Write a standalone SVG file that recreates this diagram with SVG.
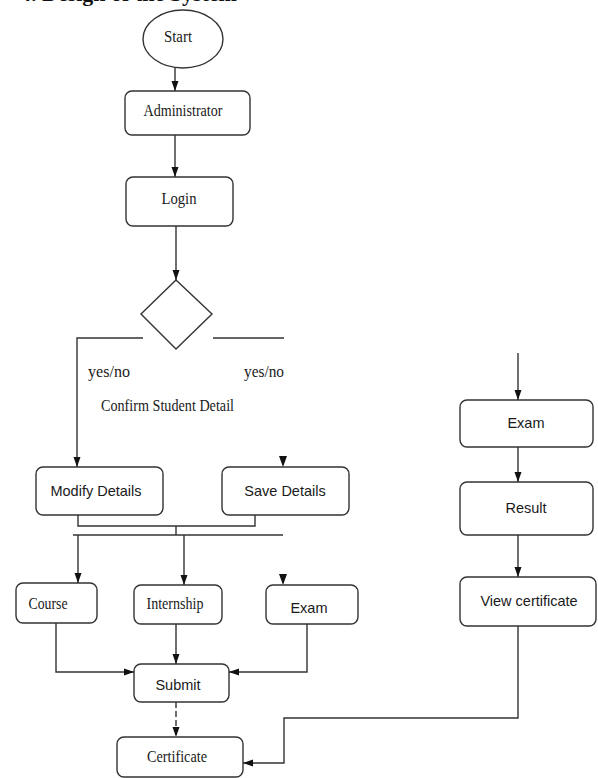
<svg xmlns="http://www.w3.org/2000/svg" width="598" height="778" viewBox="0 0 598 778">
<style>
.box{fill:#fff;stroke:#333;stroke-width:1.4}
.ln{fill:none;stroke:#333;stroke-width:1.4}
.ah{fill:#111}
.sr{font-family:"Liberation Serif",serif;font-size:17px;fill:#1a1a1a;text-anchor:middle}
.ss{font-family:"Liberation Sans",sans-serif;font-size:14.5px;fill:#1a1a1a;text-anchor:middle}
.st{text-anchor:start}
.tl{font-family:"Liberation Serif",serif;font-size:22px;font-weight:bold;fill:#111}
</style>
<defs>
<marker id="arr" markerUnits="userSpaceOnUse" markerWidth="10" markerHeight="8" refX="10" refY="4" orient="auto">
<path d="M0,0.5 L10,4 L0,7.5 z" fill="#111"/>
</marker>
</defs>
<text class="tl" x="20" y="1">4. Design of the System</text>
<g id="connectors">
<path class="ln" d="M175,68 V91" marker-end="url(#arr)"/>
<path class="ln" d="M175,135 V177" marker-end="url(#arr)"/>
<path class="ln" d="M176,226 V280" marker-end="url(#arr)"/>
<path class="ln" d="M143,338 H77 V467" marker-end="url(#arr)"/>
<path class="ln" d="M213,338 H284"/>
<path class="ah" d="M279,456 L287,456 L283,467 z"/>
<path class="ln" d="M78,515 V526 H255 V515"/>
<path class="ln" d="M176,526 V535"/>
<path class="ln" d="M73,535 H283"/>
<path class="ln" d="M78,535 V583" marker-end="url(#arr)"/>
<path class="ln" d="M184,535 V585" marker-end="url(#arr)"/>
<path class="ah" d="M279,574 L287,574 L283,585 z"/>
<path class="ln" d="M56,623 V672 H134" marker-end="url(#arr)"/>
<path class="ln" d="M176,624 V664" marker-end="url(#arr)"/>
<path class="ln" d="M307,624 V672 H229" marker-end="url(#arr)"/>
<path class="ln" d="M176,702 V737" stroke-dasharray="6,3" marker-end="url(#arr)"/>
<path class="ln" d="M518,353 V400" marker-end="url(#arr)"/>
<path class="ln" d="M518,447 V482" marker-end="url(#arr)"/>
<path class="ln" d="M518,535 V577" marker-end="url(#arr)"/>
<path class="ln" d="M518,626 V718 H284 V763 H243" marker-end="url(#arr)"/>
</g>
<g id="start"><ellipse class="box" cx="183" cy="39" rx="40" ry="29"/><text class="sr" x="178" y="42" textLength="28" lengthAdjust="spacingAndGlyphs">Start</text></g>
<g id="administrator"><rect class="box" x="125" y="91" width="125" height="44" rx="7"/><text class="sr" x="183" y="116" textLength="79" lengthAdjust="spacingAndGlyphs">Administrator</text></g>
<g id="login"><rect class="box" x="126" y="177" width="107" height="49" rx="7"/><text class="sr" x="179" y="204" textLength="35" lengthAdjust="spacingAndGlyphs">Login</text></g>
<g id="decision"><path class="box" d="M176,280 L212,314 L176,349 L141,314 z"/></g>
<g id="labels">
<text class="sr st" x="88" y="377" textLength="42" lengthAdjust="spacingAndGlyphs">yes/no</text>
<text class="sr st" x="244" y="377" textLength="40" lengthAdjust="spacingAndGlyphs">yes/no</text>
<text class="sr st" x="101" y="411" textLength="133" lengthAdjust="spacingAndGlyphs">Confirm Student Detail</text>
</g>
<g id="modify-details"><rect class="box" x="36" y="467" width="127" height="48" rx="7"/><text class="ss" x="96" y="496">Modify Details</text></g>
<g id="save-details"><rect class="box" x="222" y="467" width="127" height="48" rx="7"/><text class="ss" x="285" y="496">Save Details</text></g>
<g id="course"><rect class="box" x="16" y="583" width="81" height="40" rx="7"/><text class="sr" x="48" y="609" textLength="39" lengthAdjust="spacingAndGlyphs">Course</text></g>
<g id="internship"><rect class="box" x="134" y="585" width="88" height="39" rx="7"/><text class="sr" x="175" y="609" textLength="57" lengthAdjust="spacingAndGlyphs">Internship</text></g>
<g id="exam-left"><rect class="box" x="266" y="585" width="92" height="39" rx="7"/><text class="ss" x="309" y="613">Exam</text></g>
<g id="submit"><rect class="box" x="134" y="664" width="95" height="38" rx="7"/><text class="ss" x="178" y="690">Submit</text></g>
<g id="certificate"><rect class="box" x="117" y="737" width="126" height="40" rx="7"/><text class="sr" x="177" y="762" textLength="60" lengthAdjust="spacingAndGlyphs">Certificate</text></g>
<g id="exam-right"><rect class="box" x="460" y="400" width="133" height="47" rx="7"/><text class="ss" x="526" y="428">Exam</text></g>
<g id="result"><rect class="box" x="460" y="482" width="133" height="53" rx="7"/><text class="ss" x="526" y="513">Result</text></g>
<g id="view-certificate"><rect class="box" x="460" y="577" width="136" height="49" rx="7"/><text class="ss" x="529" y="606">View certificate</text></g>
</svg>
